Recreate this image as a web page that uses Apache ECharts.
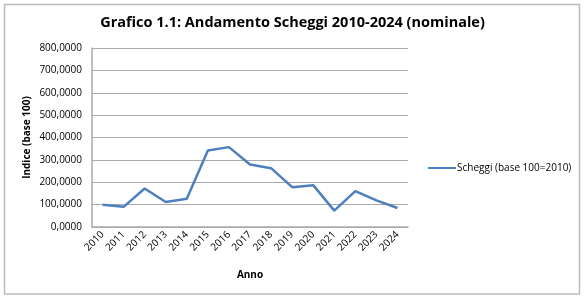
<!DOCTYPE html>
<html><head><meta charset="utf-8">
<script src="https://cdn.jsdelivr.net/npm/echarts@6/dist/echarts.min.js"></script>
<style>html,body{margin:0;padding:0;background:#fff}#c{width:585px;height:300px}</style>
</head><body><div id="c"></div>
<script>
var categories = ['2010','2011','2012','2013','2014','2015','2016','2017','2018','2019','2020','2021','2022','2023','2024'];
var scheggi = [99, 90, 172, 112, 126, 342, 357, 279, 263, 178, 187, 73, 160, 119, 85];
var seriesName = 'Scheggi (base 100=2010)';
var titleText = 'Grafico 1.1: Andamento Scheggi 2010-2024 (nominale)';

var chart = echarts.init(document.getElementById('c'));
chart.setOption({
  animation: false,
  backgroundColor: '#fff',
  graphic: [{type:'rect', shape:{x:4.5,y:4.5,width:575,height:289.5}, style:{fill:'none', stroke:'#bbbbbb', lineWidth:1.5}, silent:true}],
  title: {text: titleText, left: 'center', top: 10, textStyle:{fontFamily:'Open Sans', fontSize:14.5, fontWeight:'bold', color:'#000'}},
  legend: {data:[seriesName], left: 423, top: 158, itemWidth: 28, itemHeight: 10, itemGap: 2, icon: 'path://M0,4 L28,4 L28,6 L0,6 Z',
    textStyle:{fontFamily:'Open Sans', fontSize:10, color:'#000', padding:[0,0,0,-4]}},
  grid: {left: 92, right: 177, top: 48, bottom: 73},
  xAxis: {type:'category', data: categories, boundaryGap: true,
    name:'Anno', nameLocation:'middle', nameGap: 43, nameMoveOverlap: false,
    nameTextStyle:{fontFamily:'Open Sans', fontSize:10, fontWeight:'bold', color:'#000'},
    axisLine:{lineStyle:{color:'#aaaaaa', width:1.5}}, axisTick:{show:false},
    axisLabel:{rotate:45, fontFamily:'Open Sans', fontSize:10, color:'#000', margin:6, interval:0}},
  yAxis: {type:'value', min:0, max:800, interval:100,
    name:'Indice (base 100)', nameLocation:'middle', nameGap: 60, nameRotate: 90, nameMoveOverlap: false,
    nameTextStyle:{fontFamily:'Open Sans', fontSize:10, fontWeight:'bold', color:'#000'},
    axisLine:{show:true, lineStyle:{color:'#aaaaaa', width:1.5}}, axisTick:{show:false},
    splitLine:{lineStyle:{color:'#aaaaaa', width:1.2}},
    axisLabel:{fontFamily:'Open Sans', fontSize:10, color:'#000', margin:10,
      formatter:function(v){return v.toFixed(4).replace('.',',');}}},
  series: [{name: seriesName, type:'line', data: scheggi, symbol:'none',
    lineStyle:{color:'#4f7fbf', width:2.5}, itemStyle:{color:'#4f7fbf'}}]
});
</script></body></html>
